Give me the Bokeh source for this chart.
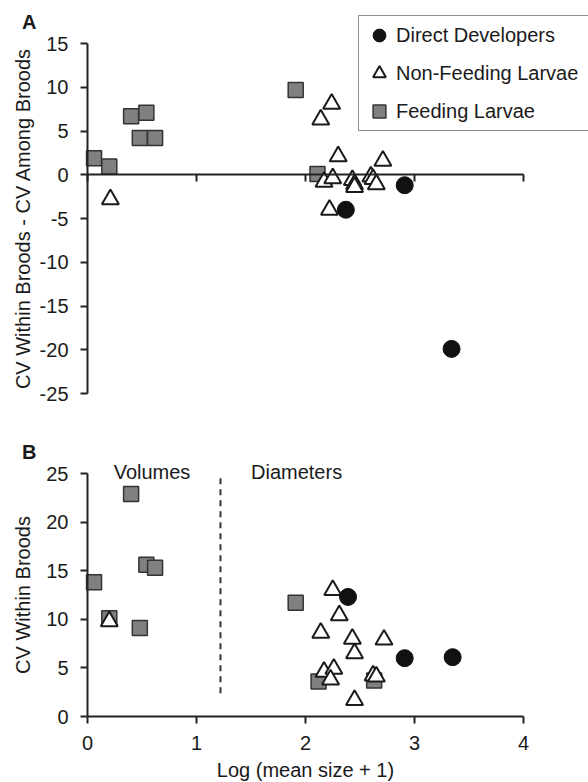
from bokeh.plotting import figure
from bokeh.layouts import column
from bokeh.models import Range1d, FixedTicker, Legend, LegendItem, Label
from bokeh.embed import file_html
from bokeh.resources import INLINE

# ---------------- data ----------------
# Panel A: CV within broods - CV among broods
feed_a_x = [0.06, 0.20, 0.40, 0.54, 0.48, 0.62, 1.91, 2.11]
feed_a_y = [1.9, 0.95, 6.7, 7.1, 4.2, 4.2, 9.7, 0.1]
nonfeed_a_x = [0.21, 2.24, 2.14, 2.30, 2.71, 2.17, 2.25, 2.43, 2.45, 2.45, 2.60, 2.62, 2.65, 2.22]
nonfeed_a_y = [-2.8, 8.1, 6.3, 2.1, 1.6, -0.8, -0.4, -0.6, -1.1, -1.4, -0.2, -0.5, -1.1, -4.0]
direct_a_x = [2.37, 2.91, 3.34]
direct_a_y = [-4.0, -1.2, -19.9]

# Panel B: CV within broods
feed_b_x = [0.06, 0.20, 0.40, 0.54, 0.62, 0.48, 1.91, 2.12, 2.63]
feed_b_y = [13.8, 10.1, 22.9, 15.6, 15.3, 9.1, 11.7, 3.6, 3.7]
nonfeed_b_x = [0.20, 2.25, 2.31, 2.14, 2.43, 2.72, 2.45, 2.17, 2.26, 2.23, 2.62, 2.65, 2.45]
nonfeed_b_y = [9.8, 13.0, 10.4, 8.6, 8.0, 7.9, 6.5, 4.6, 4.9, 3.8, 4.2, 4.1, 1.7]
direct_b_x = [2.39, 2.91, 3.35]
direct_b_y = [12.3, 6.0, 6.1]

divider_x = [1.22]
divider_y0 = [2.4]
divider_y1 = [24.8]

a_ticks = [-25, -20, -15, -10, -5, 0, 5, 10, 15]
b_ticks = [0, 5, 10, 15, 20, 25]
x_ticks = [0, 1, 2, 3, 4]

series_labels = ["Direct Developers", "Non-Feeding Larvae", "Feeding Larvae"]

# ---------------- layout calibration (pixels) ----------------
W = 588
X0_PX, PX_PER_X = 87.0, 109.0
H_A, A_TOP_PX, A_TOP_VAL, A_PX_PER_Y = 433, 43.0, 15.0, 8.75
H_B, B_TOP_PX, B_TOP_VAL, B_PX_PER_Y = 349, 40.0, 25.0, 9.72

x_lo = -X0_PX / PX_PER_X
x_hi = (W - X0_PX) / PX_PER_X
a_hi = A_TOP_VAL + A_TOP_PX / A_PX_PER_Y
a_lo = A_TOP_VAL - (H_A - A_TOP_PX) / A_PX_PER_Y
b_hi = B_TOP_VAL + B_TOP_PX / B_PX_PER_Y
b_lo = B_TOP_VAL - (H_B - B_TOP_PX) / B_PX_PER_Y

# ---------------- styles ----------------
FONT = "Liberation Sans"
TXT = "#1a1a1a"
AX = "#222222"
SQ_FILL = "#808080"


def make_fig(h, ylo, yhi):
    p = figure(width=W, height=h, title=None,
               x_range=Range1d(x_lo, x_hi), y_range=Range1d(ylo, yhi),
               min_border=0, min_border_left=0, min_border_right=0,
               min_border_top=0, min_border_bottom=0,
               output_backend="svg", toolbar_location=None)
    for ax in p.axis:
        ax.fixed_location = 0
        ax.axis_line_width = 2
        ax.axis_line_color = AX
        ax.major_tick_line_width = 2
        ax.major_tick_line_color = AX
        ax.major_tick_out = 7
        ax.major_tick_in = 0
        ax.minor_tick_line_color = None
        ax.major_label_text_font = FONT
        ax.major_label_text_font_size = "20px"
        ax.major_label_text_color = TXT
        ax.axis_label_text_font = FONT
        ax.axis_label_text_font_size = "20px"
        ax.axis_label_text_font_style = "normal"
        ax.axis_label_text_color = TXT
    p.xgrid.visible = False
    p.ygrid.visible = False
    p.outline_line_color = None
    p.background_fill_color = "white"
    p.border_fill_color = "white"
    p.xaxis.ticker = FixedTicker(ticks=x_ticks)
    p.xaxis.bounds = (x_ticks[0], x_ticks[-1])
    return p


def draw(p, fx, fy, nx, ny, dx, dy):
    rf = p.scatter(fx, fy, marker="square", size=15, fill_color=SQ_FILL,
                   line_color="#333333", line_width=1.5)
    rn = p.scatter(nx, ny, marker="triangle", size=17, fill_color="white",
                   line_color=TXT, line_width=2)
    rd = p.scatter(dx, dy, marker="circle", size=17, fill_color="#111111",
                   line_color="#111111")
    return rd, rn, rf


# ---------------- panel A ----------------
pA = make_fig(H_A, a_lo, a_hi)
pA.yaxis.ticker = FixedTicker(ticks=a_ticks)
pA.yaxis.bounds = (a_ticks[0], a_ticks[-1])
pA.yaxis.major_label_overrides = {t: str(t) for t in a_ticks}
pA.yaxis.axis_label = "CV Within Broods - CV Among Broods"
pA.yaxis.major_label_standoff = 12
pA.yaxis.axis_label_standoff = 3
pA.xaxis.major_label_text_color = None

rd, rn, rf = draw(pA, feed_a_x, feed_a_y, nonfeed_a_x, nonfeed_a_y, direct_a_x, direct_a_y)

legend = Legend(
    items=[LegendItem(label=series_labels[0], renderers=[rd]),
           LegendItem(label=series_labels[1], renderers=[rn]),
           LegendItem(label=series_labels[2], renderers=[rf])],
    location=(358, H_A - 131),
    border_line_color=AX, border_line_width=1.5,
    background_fill_color="white", background_fill_alpha=1.0,
    padding=3, spacing=6, margin=0,
    glyph_width=34, glyph_height=32, label_height=32, label_width=189,
    label_standoff=0,
    label_text_font=FONT, label_text_font_size="20px", label_text_color=TXT,
)
pA.add_layout(legend)

pA.add_layout(Label(x=-0.6, y=17.5, text="A", text_font=FONT, text_font_size="20px",
                    text_font_style="bold", text_color=TXT, text_baseline="alphabetic"))

# ---------------- panel B ----------------
pB = make_fig(H_B, b_lo, b_hi)
pB.yaxis.ticker = FixedTicker(ticks=b_ticks)
pB.yaxis.bounds = (b_ticks[0], b_ticks[-1])
pB.yaxis.axis_label = "CV Within Broods"
pB.yaxis.major_label_standoff = 12
pB.yaxis.axis_label_standoff = 9
pB.xaxis.axis_label = "Log (mean size + 1)"
pB.xaxis.major_label_standoff = 12
pB.xaxis.axis_label_standoff = 6

pB.segment(x0=divider_x, y0=divider_y0, x1=divider_x, y1=divider_y1,
           line_dash="6 5", line_width=2, line_color="#333333")

draw(pB, feed_b_x, feed_b_y, nonfeed_b_x, nonfeed_b_y, direct_b_x, direct_b_y)

pB.add_layout(Label(x=-0.6, y=27.2, text="B", text_font=FONT, text_font_size="20px",
                    text_font_style="bold", text_color=TXT, text_baseline="alphabetic"))
pB.add_layout(Label(x=0.24, y=25.2, text="Volumes", text_font=FONT, text_font_size="20px",
                    text_color=TXT, text_baseline="alphabetic"))
pB.add_layout(Label(x=1.50, y=25.2, text="Diameters", text_font=FONT, text_font_size="20px",
                    text_color=TXT, text_baseline="alphabetic"))

layout = column(pA, pB)
open("out.html", "w").write(file_html(layout, INLINE))
